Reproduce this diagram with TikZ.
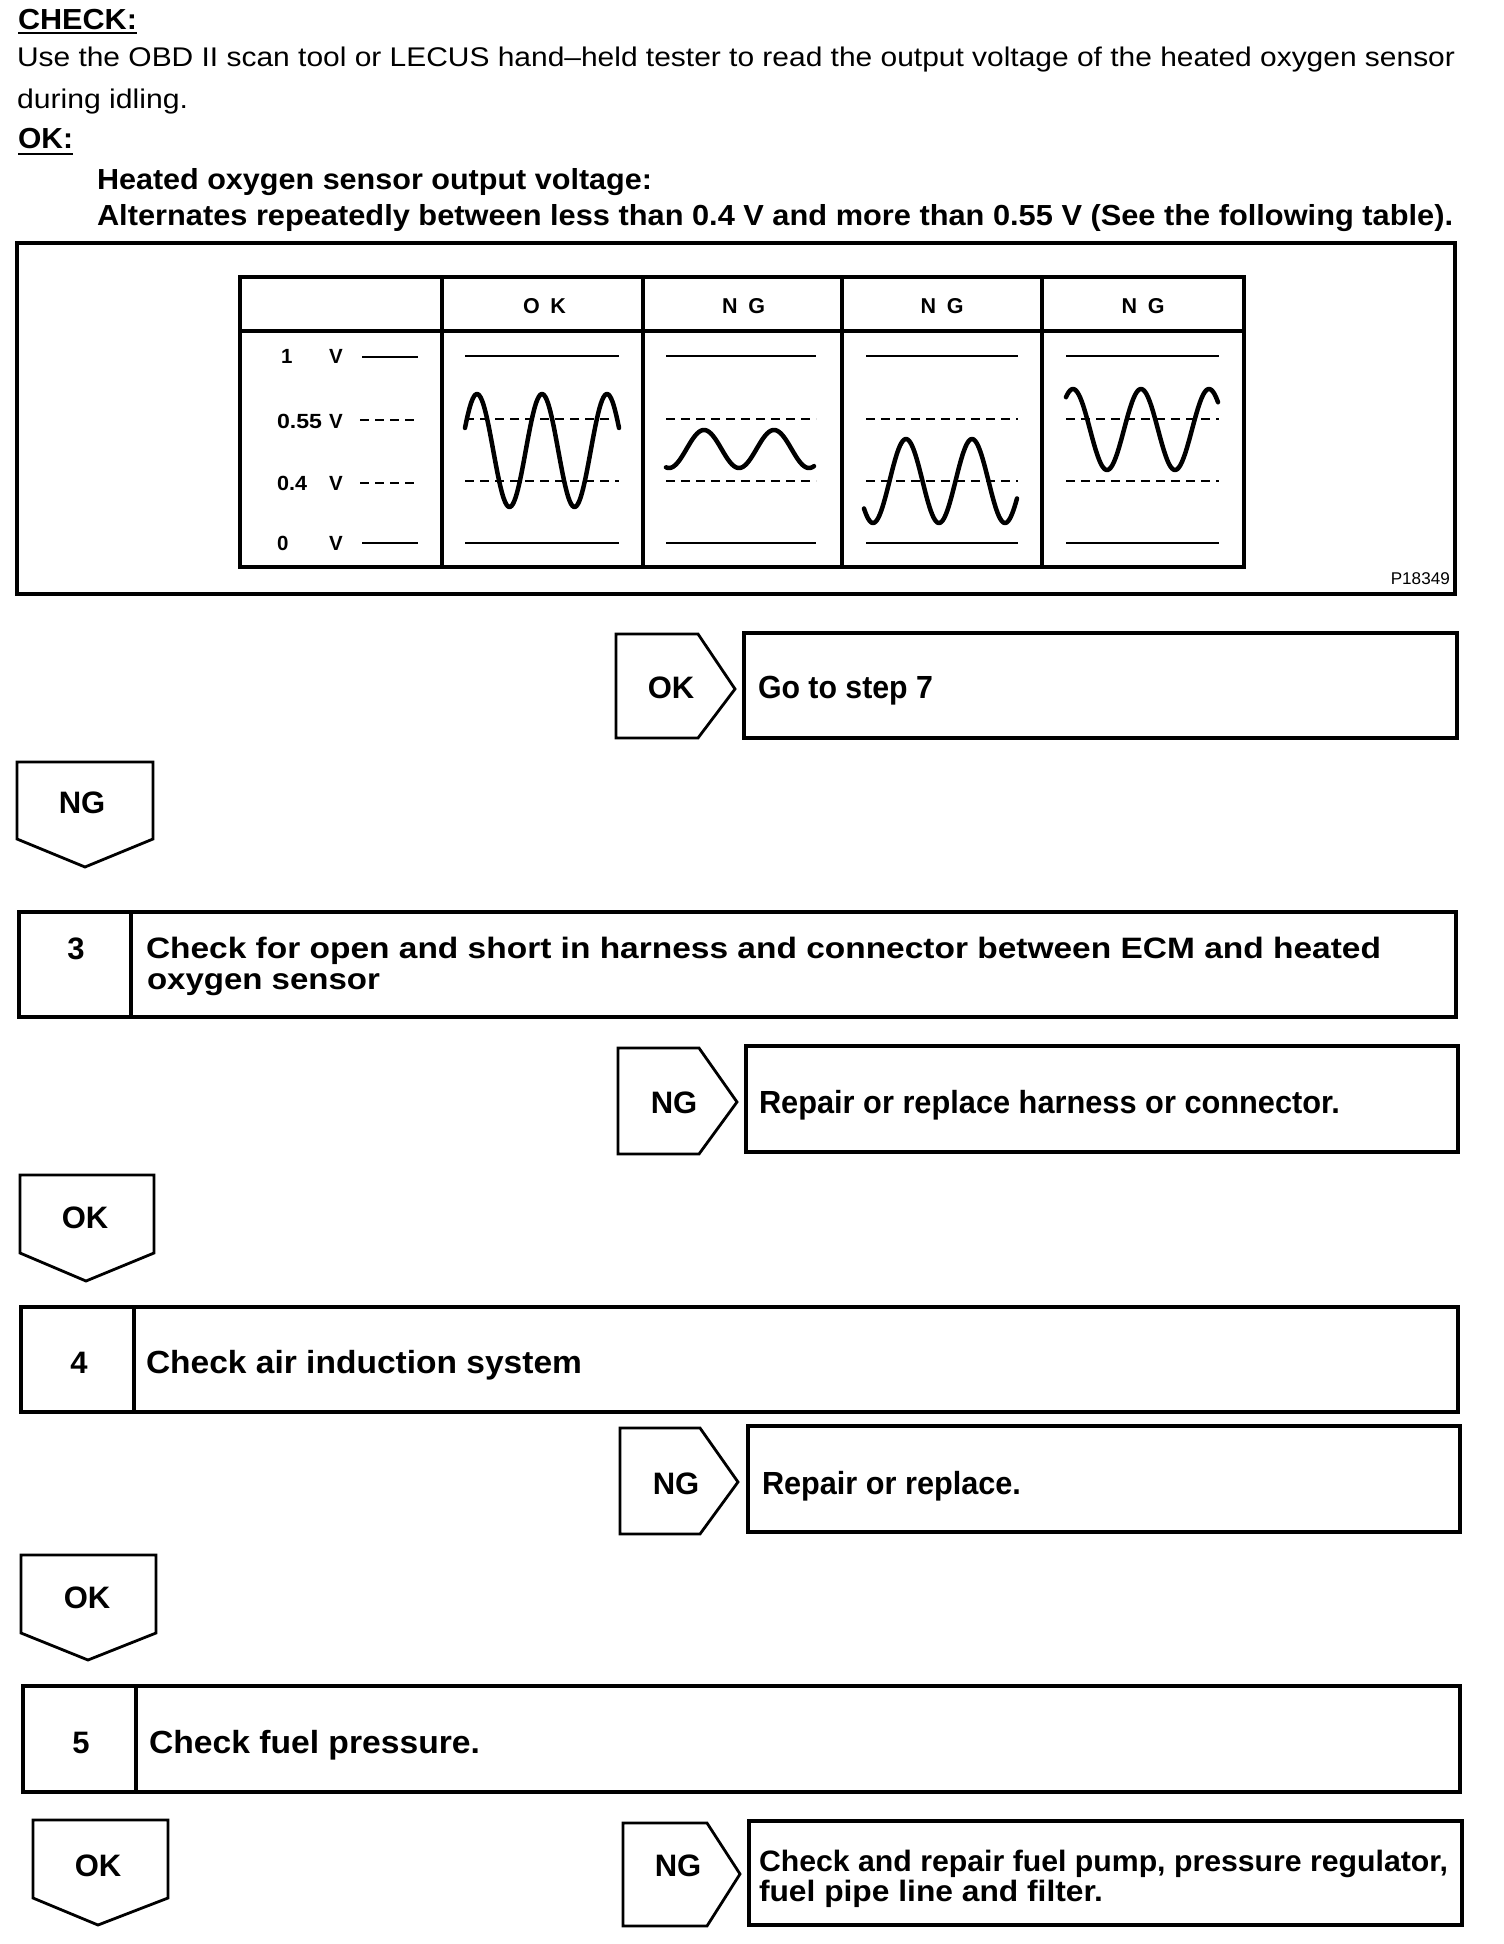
\documentclass[tikz,border=0pt]{standalone}
\usepackage{fontspec}
\setmainfont{Liberation Sans}
\usepackage{graphicx}
\newcommand{\fitw}[2]{\resizebox{#1pt}{\height}{#2}}
\newcommand\fReg{\fontsize{27}{30}\selectfont}
\newcommand\fRegB{\fontsize{29}{32}\selectfont\bfseries}
\newcommand\fFlow{\fontsize{32}{36}\selectfont\bfseries}
\newcommand\fFlowS{\fontsize{29.5}{33}\selectfont\bfseries}
\newcommand\fLab{\fontsize{31}{34}\selectfont\bfseries}
\newcommand\fTab{\fontsize{21.5}{24}\selectfont\bfseries}
\newcommand\fRow{\fontsize{20.5}{22}\selectfont\bfseries}
\newcommand\fPno{\fontsize{17}{20}\selectfont}
\begin{document}
\begin{tikzpicture}[x=1pt,y=-1pt,
  box/.style={line width=3.3pt, line join=miter},
  chev/.style={line width=2.8pt, line join=miter},
  tbl/.style={line width=3.2pt},
  lvl/.style={line width=2.8pt},
  dsh/.style={line width=2.8pt, dash pattern=on 9pt off 6pt},
  wave/.style={line width=4.5pt, line cap=round, line join=round},
  txt/.style={anchor=base west, inner sep=0pt, outer sep=0pt},
  ctr/.style={anchor=base, inner sep=0pt, outer sep=0pt},
  ul/.style={line width=2.6pt}]
\useasboundingbox (0,0) rectangle (1504,1944);
\fill[white] (0,0) rectangle (1504,1944);

% ---------- header text ----------
\node[txt] (check) at (18,29) {\fRegB\fitw{119}{CHECK:}};
\draw[ul] ([yshift=-4pt]check.base west) -- ([yshift=-4pt]check.base east);
\node[txt] (use) at (17,66) {\fReg\fitw{1438}{Use the OBD II scan tool or LECUS hand–held tester to read the output voltage of the heated oxygen sensor}};
\node[txt] (idl) at (17,108) {\fReg\fitw{171}{during idling.}};
\node[txt] (okh) at (18,148) {\fRegB\fitw{55}{OK:}};
\draw[ul] ([yshift=-6pt]okh.base west) -- ([yshift=-6pt]okh.base east);
\node[txt] (hos) at (97,189) {\fRegB\fitw{555}{Heated oxygen sensor output voltage:}};
\node[txt] (alt) at (97,225) {\fRegB\fitw{1356}{Alternates repeatedly between less than 0.4 V and more than 0.55 V (See the following table).}};

% ---------- figure ----------
\draw[box] (17,243) rectangle (1455,594);
\draw[tbl] (240,277) rectangle (1244,567);
\draw[tbl] (240,331) -- (1244,331);
\foreach \cx in {442,643,842,1042} \draw[tbl] (\cx,277) -- (\cx,567);

\node[ctr] (hok) at (544.5,313) {\fTab\fitw{43}{O\hspace{0.5em}K}};
\node[ctr] (hng1) at (743.5,313) {\fTab\fitw{43}{N\hspace{0.5em}G}};
\node[ctr] (hng2) at (942,313) {\fTab\fitw{43}{N\hspace{0.5em}G}};
\node[ctr] (hng3) at (1143,313) {\fTab\fitw{43}{N\hspace{0.5em}G}};

% row labels
\node[txt] (r1) at (281,363) {\fRow 1};
\node[txt] (r1v) at (329,363) {\fRow V};
\node[txt] (r2) at (277,428) {\fRow\fitw{45}{0.55}};
\node[txt] (r2v) at (329,428) {\fRow V};
\node[txt] (r3) at (277,490) {\fRow\fitw{30}{0.4}};
\node[txt] (r3v) at (329,490) {\fRow V};
\node[txt] (r4) at (277,550) {\fRow 0};
\node[txt] (r4v) at (329,550) {\fRow V};
\draw[lvl] (362,357) -- (418,357);
\draw[dsh] (360,420) -- (418,420);
\draw[dsh] (360,483) -- (418,483);
\draw[lvl] (362,543) -- (418,543);

% level lines in the four columns
\foreach \a/\b in {465/619,666/816,866/1018,1066/1219}{
  \draw[lvl] (\a,356) -- (\b,356);
  \draw[dsh] (\a,419) -- (\b,419);
  \draw[dsh] (\a,481) -- (\b,481);
  \draw[lvl] (\a,543) -- (\b,543);
}
% waves
\draw[wave] plot[domain=465:619, samples=120, smooth] (\x,{450.5-56.5*cos(5.53846*(\x-477))});
\draw[wave] plot[domain=666:814, samples=120, smooth] (\x,{449+19*cos(5.142857*(\x-669))});
\draw[wave] plot[domain=864:1017, samples=120, smooth] (\x,{481+42*cos(5.454545*(\x-873))});
\draw[wave] plot[domain=1066:1218, samples=120, smooth] (\x,{429.5-40.5*cos(5.294118*(\x-1073))});

\node[anchor=base east, inner sep=0pt] (pno) at (1450,584) {\fPno\fitw{59}{P18349}};

% ---------- OK -> Go to step 7 ----------
\draw[chev] (616,634) -- (698,634) -- (735,689) -- (698,738) -- (616,738) -- cycle;
\node[ctr] (ok2) at (671,698) {\fLab OK};
\draw[box] (744,633) rectangle (1457,738);
\node[txt] (go7) at (758,698) {\fFlow\fitw{175}{Go to step 7}};

% ---------- NG down ----------
\draw[chev] (17,762) -- (153,762) -- (153,839) -- (85,867) -- (17,839) -- cycle;
\node[ctr] (ng2) at (82,813) {\fLab NG};

% ---------- step 3 ----------
\draw[box] (19,912) rectangle (1456,1017);
\draw[box] (131,912) -- (131,1017);
\node[ctr] (n3) at (76,959) {\fLab 3};
\node[txt] (s3a) at (146,958) {\fFlowS\fitw{1235}{Check for open and short in harness and connector between ECM and heated}};
\node[txt] (s3b) at (147,989) {\fFlowS\fitw{233}{oxygen sensor}};

\draw[chev] (618,1048) -- (699,1048) -- (737,1102) -- (699,1154) -- (618,1154) -- cycle;
\node[ctr] (ng3) at (674,1113) {\fLab NG};
\draw[box] (746,1046) rectangle (1458,1152);
\node[txt] (rep3) at (759,1113) {\fFlow\fitw{581}{Repair or replace harness or connector.}};

\draw[chev] (20,1175) -- (154,1175) -- (154,1253) -- (86,1281) -- (20,1253) -- cycle;
\node[ctr] (ok3) at (85,1228) {\fLab OK};

% ---------- step 4 ----------
\draw[box] (21,1307) rectangle (1458,1412);
\draw[box] (134,1307) -- (134,1412);
\node[ctr] (n4) at (79,1373) {\fLab 4};
\node[txt] (s4) at (146,1373) {\fFlow\fitw{436}{Check air induction system}};

\draw[chev] (620,1428) -- (700,1428) -- (738,1482) -- (700,1534) -- (620,1534) -- cycle;
\node[ctr] (ng4) at (676,1494) {\fLab NG};
\draw[box] (748,1426) rectangle (1460,1532);
\node[txt] (rep4) at (762,1494) {\fFlow\fitw{259}{Repair or replace.}};

\draw[chev] (21,1555) -- (156,1555) -- (156,1633) -- (88,1660) -- (21,1633) -- cycle;
\node[ctr] (ok4) at (87,1608) {\fLab OK};

% ---------- step 5 ----------
\draw[box] (23,1686) rectangle (1460,1792);
\draw[box] (136,1686) -- (136,1792);
\node[ctr] (n5) at (81,1753) {\fLab 5};
\node[txt] (s5) at (149,1753) {\fFlow\fitw{331}{Check fuel pressure.}};

\draw[chev] (33,1820) -- (168,1820) -- (168,1898) -- (98,1925) -- (33,1898) -- cycle;
\node[ctr] (ok5) at (98,1876) {\fLab OK};

\draw[chev] (623,1823) -- (707,1823) -- (740,1874) -- (707,1926) -- (623,1926) -- cycle;
\node[ctr] (ng5) at (678,1876) {\fLab NG};
\draw[box] (749,1821) rectangle (1462,1925);
\node[txt] (rep5a) at (759,1871) {\fFlowS\fitw{689}{Check and repair fuel pump, pressure regulator,}};
\node[txt] (rep5b) at (759,1901) {\fFlowS\fitw{344}{fuel pipe line and filter.}};
\end{tikzpicture}
\end{document}
